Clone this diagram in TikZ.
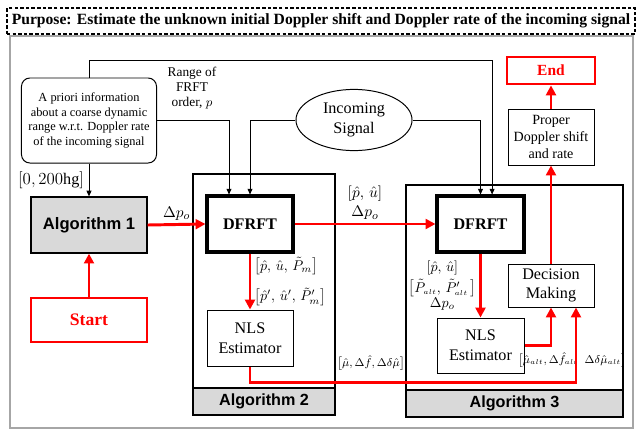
\documentclass[tikz,border=0pt]{standalone}
\usepackage{amsmath}
\usepackage{fontspec}
\setmainfont{Liberation Serif}
\setsansfont{Liberation Sans}
\usetikzlibrary{arrows.meta,shapes.geometric,positioning}
\definecolor{band-gray}{HTML}{D9D9D9}
\definecolor{frame-gray}{HTML}{A6A6A6}
\definecolor{flow-red}{HTML}{FF0000}
\newcommand{\subalt}{{\scriptscriptstyle alt}}

\begin{document}
\begin{tikzpicture}[x=0.025cm, y=-0.025cm,
    plainbox/.style={draw, line width=0.7pt, align=center, inner sep=1pt,
                     font=\fontsize{10}{12}\selectfont},
    dfrftbox/.style={draw, line width=2.2pt, minimum width=2.15cm, minimum height=1.4cm,
                     font=\fontsize{11.5}{13}\selectfont\bfseries},
    redbox/.style={draw=flow-red, line width=2pt, text=flow-red, minimum width=2.9cm,
                   font=\fontsize{12.5}{14}\selectfont\bfseries},
    algframe/.style={draw, line width=0.9pt},
    algband/.style={draw, line width=0.9pt, fill=band-gray,
                    font=\sffamily\bfseries\fontsize{11.5}{13}\selectfont},
    feed/.style={-{Triangle[length=4pt,width=3.5pt]}, line width=0.5pt},
    flow/.style={-{Triangle[length=7pt,width=7pt]}, line width=2.1pt, draw=flow-red},
    lbl/.style={font=\fontsize{10}{12}\selectfont, inner sep=2pt}]
  \useasboundingbox (0,0) rectangle (636,429);
  \node[draw=frame-gray, line width=1.2pt, minimum width=15.575cm, minimum height=9.8cm]
        (outer) at (321.5,232) {};
  \node[draw, dashed, line width=1.6pt, dash pattern=on 2.5pt off 1.5pt,
        minimum width=15.7cm, minimum height=0.65cm, inner sep=0pt,
        font=\bfseries\fontsize{11.1}{12}\selectfont] (purpose) at (321,21)
        {Purpose: Estimate the unknown initial Doppler shift and Doppler rate of the incoming signal};

  \node[algframe, minimum width=3.55cm, minimum height=6.025cm] (alg2) at (264,294.5) {};
  \node[algband, minimum width=3.55cm, minimum height=0.675cm] (alg2band) at (264,401.5) {Algorithm 2};
  \node[algframe, minimum width=5.425cm, minimum height=5.8cm] (alg3) at (514.5,301) {};
  \node[algband, minimum width=5.425cm, minimum height=0.675cm] (alg3band) at (514.5,403.5) {Algorithm 3};

  \node[plainbox, rounded corners=6pt, minimum width=3.375cm, minimum height=2.125cm,
        font=\fontsize{8.8}{10.6}\selectfont] (apriori) at (89,120.5)
        {A priori information\\about a coarse dynamic\\range w.r.t. Doppler rate\\of the incoming signal};
  \node[align=center, font=\fontsize{9.5}{10.6}\selectfont] (rangelbl) at (192,88)
        {Range of\\FRFT\\order, $p$};
  \node[draw, ellipse, line width=0.7pt, minimum width=2.9cm, minimum height=1.375cm,
        align=center, font=\fontsize{11.5}{14}\selectfont] (incoming) at (354,120) {Incoming\\Signal};

  \node[draw, fill=band-gray, line width=0.9pt, minimum width=2.9cm, minimum height=1.4cm,
        font=\sffamily\bfseries\fontsize{11.8}{13}\selectfont] (alg1) at (89,225) {Algorithm 1};
  \node[redbox, minimum height=1.1cm] (startbox) at (89,320) {Start};
  \node[dfrftbox] (dfrft2) at (250,224) {DFRFT};
  \node[dfrftbox, minimum width=2.175cm] (dfrft3) at (480.5,224) {DFRFT};
  \node[plainbox, minimum width=2.15cm, minimum height=1.4cm,
        font=\fontsize{11.5}{14}\selectfont] (nls2) at (250,338) {NLS\\Estimator};
  \node[plainbox, minimum width=2.175cm, minimum height=1.375cm,
        font=\fontsize{11.5}{14}\selectfont] (nls3) at (480.5,345.5) {NLS\\Estimator};
  \node[plainbox, minimum width=2.15cm, minimum height=1.075cm,
        font=\fontsize{11.5}{14}\selectfont] (decision) at (551,285.5) {Decision\\Making};
  \node[plainbox, minimum width=2.15cm, minimum height=1.4cm] (proper) at (551,137)
        {Proper\\Doppler shift\\and rate};
  \node[redbox, minimum width=2.2cm, minimum height=0.675cm, font=\fontsize{11}{12}\selectfont\bfseries]
        (endbox) at (551,70.5) {End};

  \node[lbl, font=\fontsize{8.5}{10}\selectfont] (nls2out) at (371,363)
        {$\bigl[\hat{\mu},\Delta\hat{f},\Delta\delta\hat{\mu}\bigr]$};
  \node[lbl, font=\fontsize{8}{10}\selectfont] (nls3out) at (572,360)
        {$\bigl[\hat{\mu}_\subalt,\Delta\hat{f}_\subalt\;\;\Delta\delta\hat{\mu}_\subalt\bigr]$};

  \draw[feed] (apriori.south) -- (alg1.north)
        node[midway, left, font=\fontsize{11.5}{13}\selectfont] {$[0,200\mathrm{hg}]$};
  \draw[feed] (apriori.north) -- ++(0,-17) -| ([xshift=0.29cm]dfrft3.north);
  \draw[feed] (apriori.east) -| ([xshift=-0.525cm]dfrft2.north);
  \draw[feed] (incoming.west) -| (dfrft2.north);
  \draw[feed] (incoming.east) -| (dfrft3.north);

  \draw[flow] (startbox.north) -- (alg1.south);
  \draw[flow] (alg1.east) -- (dfrft2.west)
        node[midway, above, lbl, font=\fontsize{11}{12}\selectfont] {$\Delta p_o$};
  \draw[flow] (dfrft2.east) -- (dfrft3.west)
        node[midway, above, lbl, align=center, font=\fontsize{11}{14}\selectfont]
        {$[\hat{p},\,\hat{u}]$\\$\Delta p_o$};
  \draw[flow] (dfrft2.south) -- (nls2.north)
        node[midway, right, lbl, align=left]
        {$\bigl[\hat{p},\,\hat{u},\,\tilde{P}_m\bigr]$\\[8pt]$\bigl[\hat{p}',\,\hat{u}',\,\tilde{P}'_m\bigr]$};
  \draw[flow] (dfrft3.south) -- (nls3.north)
        node[midway, left, lbl, align=center]
        {$[\hat{p},\,\hat{u}]$\\[3pt]$\bigl[\tilde{P}_\subalt,\,\tilde{P}'_\subalt\,\bigr]$\\[-1pt]$\Delta p_o$};
  \draw[flow] (nls2.south) -- ++(0,16) -| ([xshift=0.625cm]decision.south);
  \draw[flow] (nls3.east) -| (decision.south);
  \draw[flow] (decision.north) -- (proper.south);
  \draw[flow] (proper.north) -- (endbox.south);
\end{tikzpicture}
\end{document}
